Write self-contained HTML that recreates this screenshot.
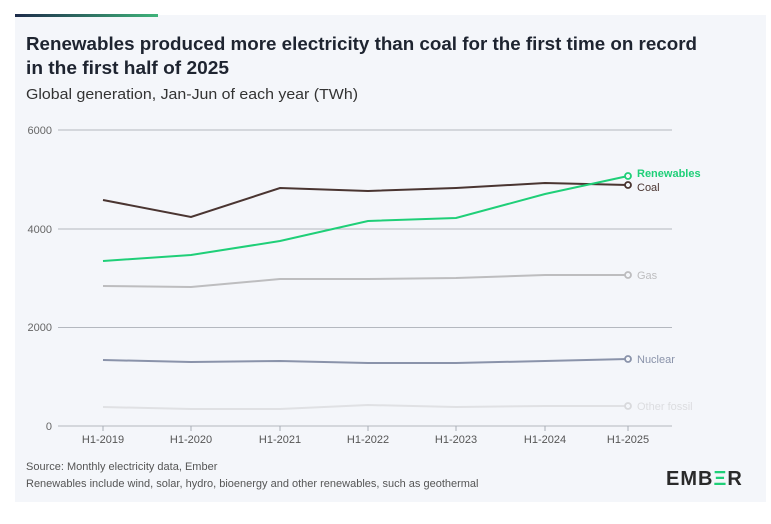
<!DOCTYPE html>
<html><head><meta charset="utf-8"><style>
body{margin:0;background:#fff;width:771px;height:524px;overflow:hidden;font-family:"Liberation Sans",sans-serif}
</style></head><body>
<svg width="771" height="524" xmlns="http://www.w3.org/2000/svg" style="position:absolute;left:0;top:0">
<defs><linearGradient id="g" x1="0" x2="1"><stop offset="0" stop-color="#1d2b4a"/><stop offset="1" stop-color="#3fb37a"/></linearGradient></defs>
<rect x="15" y="15" width="751" height="487" fill="#f4f6fa"/>
<rect x="15" y="14" width="143" height="3" fill="url(#g)"/>
<text x="26" y="50" font-size="18.5" font-weight="bold" fill="#1e2430" textLength="671" lengthAdjust="spacingAndGlyphs">Renewables produced more electricity than coal for the first time on record</text>
<text x="26" y="74" font-size="18.5" font-weight="bold" fill="#1e2430" textLength="203" lengthAdjust="spacingAndGlyphs">in the first half of 2025</text>
<text x="26" y="99" font-size="14.5" fill="#333" textLength="332" lengthAdjust="spacingAndGlyphs">Global generation, Jan-Jun of each year (TWh)</text>
<g stroke="#b4b8bf" stroke-width="1">
<line x1="58" y1="130" x2="672" y2="130"/><line x1="58" y1="229" x2="672" y2="229"/><line x1="58" y1="327.5" x2="672" y2="327.5"/><line x1="58" y1="426" x2="672" y2="426"/>
</g>
<g font-size="11" fill="#666" text-anchor="end"><text x="52" y="134">6000</text><text x="52" y="233">4000</text><text x="52" y="331">2000</text><text x="52" y="430">0</text></g>
<g stroke="#a9adb5"><line x1="103" y1="426" x2="103" y2="431"/><line x1="191" y1="426" x2="191" y2="431"/><line x1="280" y1="426" x2="280" y2="431"/><line x1="368" y1="426" x2="368" y2="431"/><line x1="456" y1="426" x2="456" y2="431"/><line x1="545" y1="426" x2="545" y2="431"/><line x1="628" y1="426" x2="628" y2="431"/></g>
<g font-size="11" fill="#555" text-anchor="middle"><text x="103" y="443">H1-2019</text><text x="191" y="443">H1-2020</text><text x="280" y="443">H1-2021</text><text x="368" y="443">H1-2022</text><text x="456" y="443">H1-2023</text><text x="545" y="443">H1-2024</text><text x="628" y="443">H1-2025</text></g>
<g fill="none" stroke-width="2">
<polyline stroke="#e0e1e4" points="103,407 191,409 280,409 368,405 456,407 545,406 628,406"/>
<polyline stroke="#8a93aa" points="103,360 191,362 280,361 368,363 456,363 545,361 628,359"/>
<polyline stroke="#bdbdbf" points="103,286 191,287 280,279 368,279 456,278 545,275 628,275"/>
<polyline stroke="#4a3531" points="103,200 191,217 280,188 368,191 456,188 545,183 628,185"/>
<polyline stroke="#1fcf78" points="103,261 191,255 280,241 368,221 456,218 545,194 628,176"/>
</g>
<g fill="#f4f6fa" stroke-width="1.8">
<circle cx="628" cy="406" r="3" stroke="#d8d9dc"/><circle cx="628" cy="359" r="3" stroke="#8a93aa"/><circle cx="628" cy="275" r="3" stroke="#bdbdbf"/><circle cx="628" cy="185" r="3" stroke="#4a3531"/><circle cx="628" cy="176" r="3" stroke="#1fcf78"/>
</g>
<g font-size="11"><text x="637" y="177" fill="#1fcf78" font-weight="bold">Renewables</text><text x="637" y="191" fill="#4a3531">Coal</text><text x="637" y="279" fill="#bdbdbf">Gas</text><text x="637" y="363" fill="#8a93aa">Nuclear</text><text x="637" y="410" fill="#dcdde0">Other fossil</text></g>
<g font-size="11" fill="#555"><text x="26" y="470">Source: Monthly electricity data, Ember</text><text x="26" y="487">Renewables include wind, solar, hydro, bioenergy and other renewables, such as geothermal</text></g>
<text x="666" y="485" font-size="20" font-weight="bold" fill="#2a2a2a" letter-spacing="1">EMB<tspan fill="#1fcf78">Ξ</tspan>R</text>
</svg>
</body></html>
